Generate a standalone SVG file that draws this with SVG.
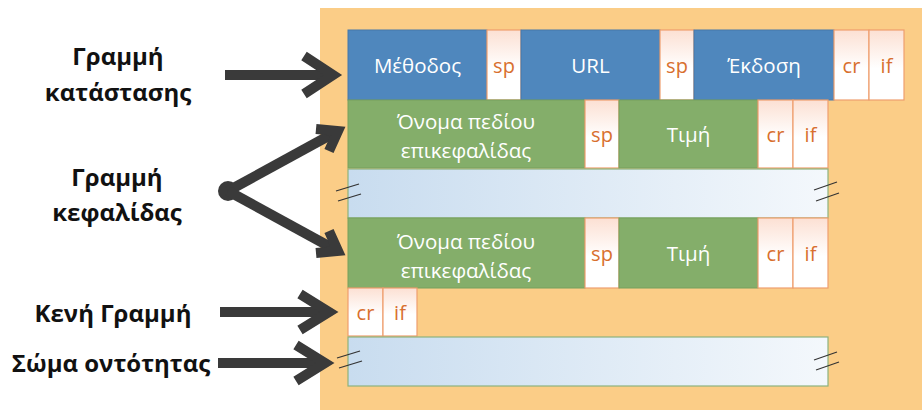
<svg xmlns="http://www.w3.org/2000/svg" width="922" height="410" viewBox="0 0 922 410">
<defs>
<linearGradient id="gSmall" x1="0" y1="0" x2="0" y2="1">
<stop offset="0" stop-color="#FCE0D3"/>
<stop offset="0.55" stop-color="#FFFFFF"/>
<stop offset="1" stop-color="#FFFFFF"/>
</linearGradient>
<linearGradient id="gBand" x1="0" y1="0" x2="1" y2="0">
<stop offset="0" stop-color="#C8DCEF"/>
<stop offset="1" stop-color="#F4F8FC"/>
</linearGradient>
</defs>
<style>
.blue{fill:#4F87BD;stroke:#4779AA;stroke-width:1}
.green{fill:#84AE6A;stroke:#76A05D;stroke-width:1}
.small{fill:url(#gSmall);stroke:#EE9E6E;stroke-width:1.2}
.band{fill:url(#gBand);stroke:#8DB27D;stroke-width:1.2}
.wt{font-family:"Open Sans","DejaVu Sans",sans-serif;font-size:20.5px;fill:#FFFFFF;text-anchor:middle;dominant-baseline:central}
.ot{font-family:"Open Sans","DejaVu Sans",sans-serif;font-size:20px;fill:#D86F2E;text-anchor:middle;dominant-baseline:central}
.lbl{font-family:"Open Sans","DejaVu Sans",sans-serif;font-size:24px;font-weight:bold;fill:#111111;text-anchor:middle;dominant-baseline:central}
.arr{fill:none;stroke:#3A3A3A;stroke-width:10;stroke-linejoin:miter;stroke-linecap:butt}
.brk{stroke:#333333;stroke-width:1.3;fill:none}
</style>
<rect x="320" y="8" width="602" height="402" fill="#FBCD87"/>

<g id="labels">
<text class="lbl" x="118" y="55">Γραμμή</text>
<text class="lbl" x="118" y="91">κατάστασης</text>
<text class="lbl" x="117" y="176">Γραμμή</text>
<text class="lbl" x="117" y="211">κεφαλίδας</text>
<text class="lbl" x="113" y="312">Κενή Γραμμή</text>
<text class="lbl" x="111" y="362">Σώμα οντότητας</text>
</g>

<g id="connectors">
<line class="arr" x1="225" y1="75" x2="330" y2="75"/>
<polyline class="arr" points="304,56 333,75 304,94"/>
<circle cx="228" cy="191" r="10" fill="#3A3A3A"/>
<line class="arr" x1="228" y1="191" x2="334" y2="133"/>
<polyline class="arr" points="316,129 338,131 329,151"/>
<line class="arr" x1="228" y1="191" x2="334" y2="249"/>
<polyline class="arr" points="329,231 338,251 316,253"/>
<line class="arr" x1="220" y1="312" x2="326" y2="312"/>
<polyline class="arr" points="300,294 329,312 300,330"/>
<line class="arr" x1="218" y1="363" x2="322" y2="363"/>
<polyline class="arr" points="296,345 325,363 296,381"/>
</g>

<g id="status-line">
<rect class="blue" x="348" y="30" width="139" height="70"/>
<text class="wt" x="417.5" y="65">Μέθοδος</text>
<rect class="small" x="487" y="30" width="34" height="70"/>
<text class="ot" x="504" y="65">sp</text>
<rect class="blue" x="521" y="30" width="139" height="70"/>
<text class="wt" x="590.5" y="65">URL</text>
<rect class="small" x="660" y="30" width="34" height="70"/>
<text class="ot" x="677" y="65">sp</text>
<rect class="blue" x="694" y="30" width="140" height="70"/>
<text class="wt" x="764" y="65">Έκδοση</text>
<rect class="small" x="834" y="30" width="35" height="70"/>
<text class="ot" x="851.5" y="65">cr</text>
<rect class="small" x="869" y="30" width="35" height="70"/>
<text class="ot" x="886.5" y="65">if</text>
</g>

<g id="header-line-1">
<rect class="green" x="348" y="100" width="237" height="68"/>
<text class="wt" x="466" y="121">Όνομα πεδίου</text>
<text class="wt" x="466" y="150">επικεφαλίδας</text>
<rect class="small" x="585" y="100" width="34" height="68"/>
<text class="ot" x="602" y="134">sp</text>
<rect class="green" x="619" y="100" width="139" height="68"/>
<text class="wt" x="688.5" y="134">Τιμή</text>
<rect class="small" x="758" y="100" width="35" height="68"/>
<text class="ot" x="775.5" y="134">cr</text>
<rect class="small" x="793" y="100" width="35" height="68"/>
<text class="ot" x="810.5" y="134">if</text>
</g>

<g id="header-gap">
<rect class="band" x="348" y="169" width="480" height="49"/>
<line class="brk" x1="336" y1="191" x2="359" y2="184"/>
<line class="brk" x1="338" y1="201" x2="361" y2="194"/>
<line class="brk" x1="814" y1="190" x2="837" y2="182"/>
<line class="brk" x1="816" y1="201" x2="839" y2="193"/>
</g>

<g id="header-line-2">
<rect class="green" x="348" y="218" width="237" height="70"/>
<text class="wt" x="466" y="241">Όνομα πεδίου</text>
<text class="wt" x="466" y="270">επικεφαλίδας</text>
<rect class="small" x="585" y="218" width="34" height="70"/>
<text class="ot" x="602" y="253">sp</text>
<rect class="green" x="619" y="218" width="139" height="70"/>
<text class="wt" x="688.5" y="253">Τιμή</text>
<rect class="small" x="758" y="218" width="35" height="70"/>
<text class="ot" x="775.5" y="253">cr</text>
<rect class="small" x="793" y="218" width="35" height="70"/>
<text class="ot" x="810.5" y="253">if</text>
</g>

<g id="empty-line">
<rect class="small" x="348" y="288" width="35" height="48"/>
<text class="ot" x="365.5" y="312">cr</text>
<rect class="small" x="383" y="288" width="34" height="48"/>
<text class="ot" x="400" y="312">if</text>
</g>

<g id="entity-body">
<rect class="band" x="348" y="337" width="480" height="49"/>
<line class="brk" x1="337" y1="358" x2="360" y2="351"/>
<line class="brk" x1="339" y1="368" x2="362" y2="361"/>
<line class="brk" x1="814" y1="360" x2="837" y2="352"/>
<line class="brk" x1="816" y1="370" x2="839" y2="362"/>
</g>
</svg>
